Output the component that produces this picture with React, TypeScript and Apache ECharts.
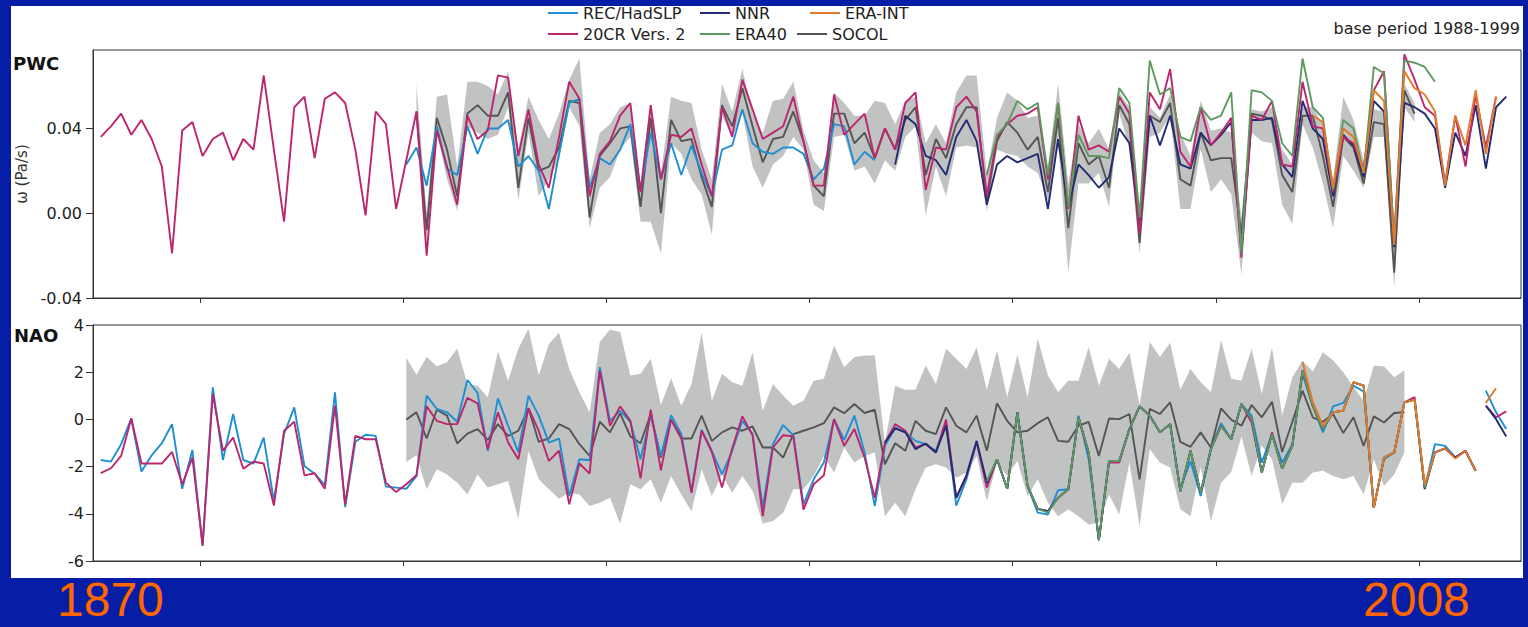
import React, { useEffect, useRef } from "react";
import * as echarts from "echarts";

// ---------------- DATA ----------------
// PWC (omega, Pa/s)
const PWC_20CR_START = 1871;
const PWC_20CR = [
  0.036, 0.041, 0.047, 0.037, 0.044, 0.035, 0.022, -0.019, 0.039, 0.043, // 1871-1880
  0.027, 0.035, 0.038, 0.025, 0.035, 0.030, 0.065, 0.030, -0.004, 0.050, // 1881-1890
  0.055, 0.026, 0.054, 0.057, 0.052, 0.030, -0.001, 0.048, 0.042, 0.002, // 1891-1900
  0.025, 0.048, -0.020, 0.039, 0.022, 0.004, 0.046, 0.035, 0.039, 0.065, // 1901-1910
  0.064, 0.027, 0.049, 0.023, 0.012, 0.036, 0.062, 0.054, 0.008, 0.028, // 1911-1920
  0.034, 0.046, 0.052, 0.010, 0.051, 0.016, 0.037, 0.036, 0.040, 0.023, // 1921-1930
  0.008, 0.050, 0.036, 0.063, 0.049, 0.035, 0.038, 0.041, 0.055, 0.034, // 1931-1940
  0.013, 0.013, 0.056, 0.037, 0.042, 0.047, 0.026, 0.040, 0.030, 0.052, // 1941-1950
  0.057, 0.011, 0.031, 0.030, 0.050, 0.055, 0.048, 0.008, 0.036, 0.042, // 1951-1960
  0.046, 0.047, 0.050, 0.016, 0.052, 0.002, 0.046, 0.030, 0.032, 0.029, // 1961-1970
  0.055, 0.047, -0.010, 0.057, 0.049, 0.068, 0.029, 0.022, 0.050, 0.032, // 1971-1980
  0.038, 0.045, -0.021, 0.046, 0.044, 0.053, 0.023, 0.022, 0.062, 0.041, // 1981-1990
  0.040, 0.010, 0.036, 0.033, 0.021, 0.058, 0.067, -0.013, 0.075, 0.063, // 1991-2000
  0.050, 0.046, 0.014, 0.046, 0.022, 0.056, 0.031, 0.055, // 2001-2008
];
const PWC_REC_START = 1901;
const PWC_REC = [
  0.023, 0.031, 0.013, 0.041, 0.021, 0.018, 0.041, 0.028, 0.040, 0.040, // 1901-1910
  0.044, 0.022, 0.027, 0.020, 0.002, 0.028, 0.052, 0.054, 0.012, 0.026, // 1911-1920
  0.023, 0.030, 0.042, 0.011, 0.038, 0.016, 0.033, 0.018, 0.032, 0.019, // 1921-1930
  0.008, 0.030, 0.032, 0.049, 0.033, 0.029, 0.028, 0.031, 0.031, 0.028, // 1931-1940
  0.016, 0.021, 0.042, 0.041, 0.023, 0.029, 0.025, // 1941-1947
];
const PWC_SOCOL_START = 1902;
const PWC_SOCOL = [
  0.048, -0.008, 0.045, 0.030, 0.008, 0.047, 0.051, 0.046, 0.046, // 1902-1910
  0.057, 0.012, 0.045, 0.020, 0.022, 0.031, 0.053, 0.052, -0.002, 0.027, // 1911-1920
  0.033, 0.040, 0.041, 0.003, 0.045, 0.000, 0.044, 0.034, 0.035, 0.017, // 1921-1930
  0.003, 0.051, 0.041, 0.059, 0.041, 0.024, 0.035, 0.036, 0.048, 0.034, // 1931-1940
  0.013, 0.008, 0.047, 0.047, 0.033, 0.038, 0.026, 0.040, 0.030, 0.044, // 1941-1950
  0.050, 0.018, 0.035, 0.026, 0.042, 0.050, 0.050, 0.006, 0.034, 0.043, // 1951-1960
  0.038, 0.030, 0.036, 0.010, 0.045, -0.007, 0.033, 0.023, 0.027, 0.012, // 1961-1970
  0.051, 0.042, -0.014, 0.046, 0.043, 0.052, 0.016, 0.013, 0.038, 0.025, // 1971-1980
  0.026, 0.026, -0.010, 0.047, 0.046, 0.044, 0.018, 0.010, 0.046, 0.046, // 1981-1990
  0.027, 0.003, 0.036, 0.031, 0.014, 0.043, 0.042, -0.028, 0.058, 0.047, // 1991-2000
];
const PWC_BAND_UPPER = [
  0.061, 0.000, 0.055, 0.056, 0.022, 0.062, 0.062, 0.060, 0.056, // 1902-1910
  0.067, 0.030, 0.055, 0.044, 0.035, 0.047, 0.063, 0.073, 0.016, 0.038, // 1911-1920
  0.042, 0.050, 0.052, 0.014, 0.051, 0.019, 0.055, 0.053, 0.052, 0.030, // 1921-1930
  0.016, 0.061, 0.048, 0.068, 0.047, 0.038, 0.053, 0.054, 0.062, 0.039, // 1931-1940
  0.025, 0.019, 0.057, 0.052, 0.046, 0.046, 0.053, 0.052, 0.042, 0.053, // 1941-1950
  0.055, 0.033, 0.042, 0.033, 0.057, 0.065, 0.065, 0.019, 0.045, 0.057, // 1951-1960
  0.053, 0.045, 0.046, 0.022, 0.061, 0.014, 0.042, 0.033, 0.040, 0.030, // 1961-1970
  0.057, 0.050, 0.000, 0.050, 0.045, 0.056, 0.038, 0.027, 0.053, 0.039, // 1971-1980
  0.040, 0.038, -0.002, 0.049, 0.048, 0.050, 0.030, 0.023, 0.050, 0.050, // 1981-1990
  0.042, 0.016, 0.055, 0.044, 0.025, 0.049, 0.048, -0.007, 0.061, 0.052, // 1991-2000
];
const PWC_BAND_LOWER = [
  0.041, -0.013, 0.038, 0.016, 0.001, 0.041, 0.038, 0.035, 0.037, // 1902-1910
  0.050, 0.006, 0.038, 0.008, 0.016, 0.025, 0.050, 0.041, -0.007, 0.012, // 1911-1920
  0.017, 0.030, 0.036, -0.004, -0.004, -0.019, 0.033, 0.028, 0.016, 0.009, // 1921-1930
  -0.010, 0.046, 0.036, 0.047, 0.022, 0.012, 0.023, 0.027, 0.036, 0.030, // 1931-1940
  0.004, 0.001, 0.036, 0.037, 0.020, 0.022, 0.014, 0.025, 0.020, 0.036, // 1941-1950
  0.041, -0.001, 0.022, 0.008, 0.031, 0.032, 0.031, 0.001, 0.030, 0.028, // 1951-1960
  0.027, 0.022, 0.019, 0.006, 0.033, -0.028, 0.014, 0.014, 0.019, 0.003, // 1961-1970
  0.047, 0.031, -0.019, 0.036, 0.038, 0.046, 0.002, 0.002, 0.030, 0.010, // 1971-1980
  0.016, 0.009, -0.029, 0.038, 0.034, 0.033, 0.004, -0.005, 0.042, 0.031, // 1981-1990
  0.014, -0.007, 0.027, 0.020, 0.012, 0.036, 0.036, -0.035, 0.050, 0.043, // 1991-2000
];
const PWC_NNR_START = 1949;
const PWC_NNR = [
  0.023, 0.046, 0.042, 0.027, 0.025, 0.018, 0.036, 0.044, 0.034, 0.004, // 1949-1958
  0.023, 0.027, 0.024, 0.026, 0.028, 0.002, 0.035, 0.003, 0.023, 0.018, // 1959-1968
  0.012, 0.017, 0.040, 0.033, -0.006, 0.046, 0.032, 0.046, 0.023, 0.021, // 1969-1978
  0.038, 0.032, 0.037, 0.043, -0.018, 0.044, 0.044, 0.045, 0.023, 0.017, // 1979-1988
  0.053, 0.040, 0.035, 0.008, 0.037, 0.032, 0.017, 0.053, 0.048, -0.016, // 1989-1998
  0.052, 0.050, 0.047, 0.040, 0.012, 0.038, 0.027, 0.051, 0.021, 0.050, // 1999-2008
  0.055, // 2009
];
const PWC_ERA40_START = 1958;
const PWC_ERA40 = [
  0.018, 0.037, 0.042, 0.053, 0.049, 0.052, 0.018, 0.052, 0.003, 0.037, // 1958-1967
  0.027, 0.027, 0.026, 0.059, 0.052, -0.002, 0.072, 0.056, 0.059, 0.036, // 1968-1977
  0.034, 0.050, 0.044, 0.046, 0.057, -0.019, 0.058, 0.057, 0.053, 0.033, // 1978-1987
  0.027, 0.073, 0.050, 0.045, 0.011, 0.044, 0.040, 0.019, 0.069, 0.066, // 1988-1997
  -0.013, 0.072, 0.071, 0.069, 0.062, // 1998-2002
];
const PWC_ERAINT_START = 1990;
const PWC_ERAINT = [
  0.046, 0.043, 0.012, 0.040, 0.036, 0.019, 0.058, 0.053, -0.015, 0.067, // 1990-1999
  0.059, 0.056, 0.048, 0.013, 0.046, 0.032, 0.058, 0.028, 0.055, // 2000-2008
];

// NAO index
const NAO_BREAK_AFTER = 2006;
const NAO_REC_START = 1871;
const NAO_REC = [
  -1.72, -1.79, -1.05, 0.04, -2.21, -1.52, -1.01, -0.20, -2.94, -1.30, // 1871-1880
  -5.35, 1.36, -1.72, 0.23, -1.72, -1.87, -0.77, -3.46, -0.62, 0.51, // 1881-1890
  -1.97, -2.30, -2.79, 1.15, -3.72, -0.95, -0.65, -0.70, -2.85, -2.89, // 1891-1900
  -2.94, -2.40, 1.01, 0.44, 0.30, -0.10, 1.67, 1.12, -1.33, 0.89, // 1901-1910
  -0.27, -1.40, 1.01, 0.16, -0.98, -0.81, -3.25, -1.69, -1.73, 2.21, // 1911-1920
  -0.06, 0.37, -0.10, -1.69, 0.16, -1.55, 0.18, -0.62, -3.04, -0.44, // 1921-1930
  -1.33, -2.33, -1.33, -0.06, -0.62, -3.74, -1.05, -0.24, -0.67, -3.60, // 1931-1940
  -2.54, -1.83, 0.01, -0.87, 0.16, -1.40, -3.67, -1.12, -0.34, -0.55, // 1941-1950
  -0.91, -1.05, -1.33, -0.10, -3.65, -2.54, -0.95, -2.75, -1.69, -2.94, // 1951-1960
  0.30, -2.82, -3.95, -4.03, -3.00, -2.96, 0.16, -1.69, -5.12, -1.76, // 1961-1970
  -1.76, -0.41, 0.55, 0.16, -0.55, -0.20, -2.95, -1.76, -3.25, -1.26, // 1971-1980
  -0.16, -0.84, 0.65, 0.16, -1.83, -0.62, -1.83, -1.05, 1.93, 0.58, // 1981-1990
  -0.55, 0.55, 0.70, 1.43, 1.18, -3.74, -1.69, -1.40, 0.72, 0.84, // 1991-2000
  -2.89, -1.05, -1.12, -1.62, -1.33, -2.18, 1.22, 0.30, -0.41, // 2001-2009
];
const NAO_20CR_START = 1871;
const NAO_20CR = [
  -2.28, -2.07, -1.55, 0.04, -1.87, -1.87, -1.87, -1.38, -2.75, -1.62, // 1871-1880
  -5.35, 1.08, -1.33, -0.77, -2.09, -1.79, -1.87, -3.65, -0.48, -0.10, // 1881-1890
  -2.37, -2.28, -2.94, 0.58, -3.60, -0.70, -0.84, -0.84, -2.68, -3.08, // 1891-1900
  -2.75, -2.37, 0.55, -0.06, -0.20, -0.20, 0.91, 0.68, -1.26, 0.30, // 1901-1910
  -0.98, -1.69, 0.48, -0.48, -1.76, -1.33, -3.60, -1.87, -2.30, 2.07, // 1911-1920
  -0.27, 0.55, -0.06, -2.50, 0.41, -2.16, -0.01, -0.77, -3.11, -0.48, // 1921-1930
  -1.38, -2.89, -1.23, 0.13, -0.67, -4.10, -1.19, -0.67, -0.72, -3.82, // 1931-1940
  -2.75, -2.37, 0.01, -1.12, -0.41, -1.62, -3.32, -0.98, -0.20, -0.48, // 1941-1950
  -1.19, -1.05, -1.40, -0.01, -3.32, -2.40, -0.95, -2.89, -1.69, -2.94, // 1951-1960
  0.30, -2.82, -3.79, -3.89, -3.32, -2.96, 0.09, -1.40, -5.12, -1.83, // 1961-1970
  -1.83, -0.41, 0.55, 0.16, -0.55, -0.20, -3.04, -1.33, -3.11, -1.26, // 1971-1980
  -0.27, -0.84, 0.65, -0.13, -2.26, -0.55, -2.09, -1.12, 2.07, 0.58, // 1981-1990
  -0.41, 0.30, 0.37, 1.57, 1.43, -3.74, -1.62, -1.40, 0.72, 0.94, // 1991-2000
  -2.89, -1.40, -1.23, -1.62, -1.33, -2.18, 0.58, 0.09, 0.34, // 2001-2009
];
const NAO_NNR_START = 1948;
const NAO_NNR = [
  -0.98, -0.38, -0.55, -1.26, -1.02, -1.40, -0.27, -3.32, -2.37, -0.91, // 1948-1957
  -2.68, -1.69, -2.94, 0.30, -2.82, -3.79, -3.89, -3.32, -2.96, 0.09, // 1958-1967
  -1.40, -5.12, -1.76, -1.76, -0.41, 0.55, 0.16, -0.55, -0.20, -3.04, // 1968-1977
  -1.33, -3.11, -1.26, -0.27, -0.84, 0.65, 0.01, -2.26, -0.62, -2.09, // 1978-1987
  -1.12, 2.07, 0.58, -0.41, 0.30, 0.37, 1.57, 1.43, -3.74, -1.62, // 1988-1997
  -1.40, 0.72, 0.84, -2.95, -1.40, -1.23, -1.62, -1.33, -2.18, 0.58, // 1998-2007
  0.01, -0.72, // 2008-2009
];
const NAO_ERA40_START = 1958;
const NAO_ERA40 = [
  -2.61, -1.69, -2.94, 0.30, -2.82, -3.79, -3.95, -3.32, -2.96, 0.09, // 1958-1967
  -1.40, -5.12, -1.76, -1.76, -0.41, 0.55, 0.16, -0.55, -0.20, -3.04, // 1968-1977
  -1.33, -3.11, -1.26, -0.27, -0.84, 0.65, 0.01, -2.26, -0.62, -2.09, // 1978-1987
  -1.12, 2.07, 0.58, -0.41, 0.30, 0.37, 1.57, 1.43, -3.74, -1.62, // 1988-1997
  -1.40, 0.72, 0.84, -2.89, -1.40, // 1998-2002
];
const NAO_ERAINT_START = 1989;
const NAO_ERAINT = [
  2.43, 0.75, -0.27, 0.30, 0.37, 1.57, 1.43, -3.74, -1.62, -1.40, // 1989-1998
  0.72, 0.84, -2.75, -1.40, -1.23, -1.66, -1.33, -2.18, 0.70, 1.32, // 1999-2008
];
const NAO_SOCOL_START = 1901;
const NAO_SOCOL = [
  -0.01, 0.30, -0.81, 0.41, 0.16, -1.02, -0.60, -0.41, -0.87, -0.20, // 1901-1910
  -0.70, -0.48, 0.47, -0.95, -0.81, -0.20, -0.41, -1.05, -1.55, -0.10, // 1911-1920
  -0.55, 0.26, -0.72, -1.01, 0.23, -1.62, -0.01, -0.81, -0.81, 0.16, // 1921-1930
  -0.91, -0.55, -0.34, -0.48, -0.30, -1.19, -1.19, -1.62, -0.62, -0.48, // 1931-1940
  -0.34, -0.16, 0.51, 0.26, 0.65, 0.27, 0.41, -1.90, -1.01, -1.33, // 1941-1950
  -0.06, -0.48, -0.62, 0.51, -0.27, -0.55, 0.16, -1.33, 0.68, -0.06, // 1951-1960
  -0.55, -0.48, -0.16, 0.09, -0.91, -0.95, -0.27, -0.10, -1.55, 0.04, // 1961-1970
  0.01, 0.23, -2.54, 0.45, 0.23, 0.72, -0.95, -1.16, -0.55, -1.19, // 1971-1980
  0.47, -0.01, -0.27, 0.61, 0.09, 0.75, -1.38, -0.10, 1.22, 0.09, // 1981-1990
  -0.10, 0.23, -0.58, 0.09, -1.12, 0.13, -0.13, 0.27, 0.30, // 1991-1999
];
const NAO_BAND_UPPER = [
  2.60, 1.89, 2.64, 2.25, 2.42, 2.99, 1.50, 1.43, 0.94, 2.88, // 1901-1910
  1.64, 2.99, 3.84, 1.86, 3.20, 3.67, 2.14, 1.15, 0.30, 3.28, // 1911-1920
  3.81, 3.70, 1.86, 1.93, 2.57, 0.61, 1.74, 0.58, 1.50, 3.67, // 1921-1930
  0.79, 1.93, 1.57, 1.43, 2.85, 0.37, 1.50, 1.01, 0.58, 0.79, // 1931-1940
  1.64, 1.72, 3.13, 2.21, 2.64, 2.71, 2.71, -1.00, 1.43, 1.26, // 1941-1950
  1.26, 2.28, 1.50, 2.99, 2.57, 2.14, 3.06, 1.26, 2.92, 0.94, // 1951-1960
  2.74, 0.94, 3.42, 1.86, 1.15, 1.64, 1.64, 3.06, 1.43, 2.57, // 1961-1970
  2.14, 2.82, 0.61, 3.28, 2.64, 3.25, 1.26, 2.14, 1.57, 1.15, // 1971-1980
  3.35, 1.72, 1.64, 2.99, 1.08, 3.06, 0.16, 1.79, 2.50, 2.03, // 1981-1990
  2.85, 2.50, 2.00, 1.36, 0.79, 2.28, 2.24, 1.79, 2.07, // 1991-1999
];
const NAO_BAND_LOWER = [
  -1.80, -1.52, -2.96, -2.11, -2.33, -2.68, -3.18, -2.33, -2.89, -2.75, // 1901-1910
  -2.61, -4.21, -1.33, -2.54, -2.96, -3.36, -3.11, -3.18, -3.67, -3.53, // 1911-1920
  -3.32, -4.41, -2.75, -2.96, -2.54, -3.53, -2.40, -3.18, -3.89, -2.11, // 1921-1930
  -3.25, -2.33, -3.11, -2.40, -3.03, -4.41, -4.31, -3.96, -2.96, -2.96, // 1931-1940
  -2.40, -1.55, -2.25, -1.19, -1.83, -1.55, -1.40, -4.10, -3.53, -4.10, // 1941-1950
  -2.96, -2.04, -1.90, -2.04, -2.47, -2.25, -1.55, -3.46, -1.83, -2.40, // 1951-1960
  -1.76, -3.25, -2.54, -3.53, -4.10, -3.81, -4.10, -4.45, -4.38, -3.18, // 1961-1970
  -4.03, -1.83, -4.52, -1.26, -1.83, -2.04, -3.81, -4.10, -2.04, -4.31, // 1971-1980
  -2.68, -2.23, -0.72, -2.40, -1.12, -1.69, -3.60, -2.68, -2.68, -2.25, // 1981-1990
  -2.18, -2.40, -2.54, -2.40, -3.18, -1.69, -2.82, -2.33, -1.40, // 1991-1999
];

// axes
const X_TICKS = [1880.8, 1900.7, 1920.6, 1940.6, 1960.5, 1980.5, 2000.5];
const PWC_TICKS = [-0.04, 0, 0.04];
const NAO_TICKS = [-6, -4, -2, 0, 2, 4];

const COLORS: Record<string, string> = {
  "REC/HadSLP": "#1d8fd2",
  NNR: "#232b74",
  "ERA-INT": "#e27a2a",
  "20CR Vers. 2": "#bb266e",
  ERA40: "#5e9a5f",
  SOCOL: "#555555",
};
const BAND_COLOR = "#c1c2c2";
const FONT = "DejaVu Sans";

// ---------------- helpers ----------------
function pairs(start: number, values: number[], breakAfter?: number) {
  const out: any[] = [];
  values.forEach((v, i) => {
    const yr = start + i;
    out.push([yr, v]);
    if (breakAfter !== undefined && yr === breakAfter && i < values.length - 1) {
      out.push([yr + 0.5, "-"]);
    }
  });
  return out;
}

function line(name: string, start: number, values: number[], idx: number, breakAfter?: number) {
  return {
    type: "line",
    name,
    xAxisIndex: idx,
    yAxisIndex: idx,
    data: pairs(start, values, breakAfter),
    showSymbol: false,
    symbol: "none",
    connectNulls: false,
    lineStyle: { color: COLORS[name], width: 1.9 },
    itemStyle: { color: COLORS[name] },
    emphasis: { disabled: true },
    silent: true,
  };
}

function band(start: number, upper: number[], lower: number[], idx: number) {
  return {
    type: "custom",
    xAxisIndex: idx,
    yAxisIndex: idx,
    silent: true,
    clip: true,
    data: [[start, upper[0]]],
    encode: { x: 0, y: 1 },
    renderItem: (_p: any, api: any) => {
      const pts: number[][] = [];
      upper.forEach((v, i) => pts.push(api.coord([start + i, v])));
      for (let i = lower.length - 1; i >= 0; i--) pts.push(api.coord([start + i, lower[i]]));
      return { type: "polygon", shape: { points: pts }, style: { fill: BAND_COLOR, stroke: null } };
    },
  };
}

function legendItem(name: string, left: number, top: number) {
  return {
    data: [name],
    left,
    top,
    icon: "rect",
    itemWidth: 30,
    itemHeight: 2,
    padding: 0,
    selectedMode: false,
    textStyle: { fontFamily: FONT, fontSize: 16, color: "#222", padding: [0, 0, 0, 0] },
  };
}

const xAxisBase = {
  type: "value",
  min: 1870.24,
  max: 2010.45,
  axisLine: { show: true, onZero: false, lineStyle: { color: "#333", width: 1 } },
  axisTick: { show: true, customValues: X_TICKS, length: 5, lineStyle: { color: "#333" } },
  axisLabel: { show: false },
  splitLine: { show: false },
};

export default function App() {
  const ref = useRef<HTMLDivElement>(null);
  useEffect(() => {
    if (!ref.current) return;
    const chart = echarts.init(ref.current, null, { renderer: "svg" });
    const option: any = {
      animation: false,
      textStyle: { fontFamily: FONT },
      grid: [
        { left: 93, top: 50, width: 1428, height: 248, show: true, borderColor: "#333", borderWidth: 1 },
        { left: 93, top: 325, width: 1428, height: 236, show: true, borderColor: "#333", borderWidth: 1 },
      ],
      xAxis: [
        { ...xAxisBase, gridIndex: 0 },
        { ...xAxisBase, gridIndex: 1 },
      ],
      yAxis: [
        {
          type: "value",
          gridIndex: 0,
          min: -0.04,
          max: 0.077,
          interval: 0.04,
          axisLine: { show: true, onZero: false, lineStyle: { color: "#333" } },
          axisTick: { show: true, customValues: PWC_TICKS, length: 7, lineStyle: { color: "#333" } },
          axisLabel: {
            customValues: PWC_TICKS,
            formatter: (v: number) => v.toFixed(2),
            fontFamily: FONT,
            fontSize: 16,
            color: "#222",
            margin: 11,
          },
          splitLine: { show: false },
          name: "ω (Pa/s)",
          nameLocation: "middle",
          nameGap: 57,
          nameTextStyle: { fontFamily: FONT, fontSize: 15, color: "#333" },
        },
        {
          type: "value",
          gridIndex: 1,
          min: -6,
          max: 4,
          interval: 2,
          axisLine: { show: true, onZero: false, lineStyle: { color: "#333" } },
          axisTick: { show: true, customValues: NAO_TICKS, length: 7, lineStyle: { color: "#333" } },
          axisLabel: {
            customValues: NAO_TICKS,
            fontFamily: FONT,
            fontSize: 16,
            color: "#222",
            margin: 9,
          },
          splitLine: { show: false },
        },
      ],
      legend: [
        legendItem("REC/HadSLP", 548, 5),
        legendItem("NNR", 700, 5),
        legendItem("ERA-INT", 810, 5),
        legendItem("20CR Vers. 2", 548, 26),
        legendItem("ERA40", 700, 26),
        legendItem("SOCOL", 797, 26),
      ],
      graphic: [
        {
          type: "text",
          x: 1520,
          y: 28,
          style: { text: "base period 1988-1999", font: `16px "${FONT}"`, fill: "#222", align: "right", verticalAlign: "middle", textAlign: "right", textVerticalAlign: "middle" },
        },
        {
          type: "text",
          x: 13,
          y: 63,
          style: { text: "PWC", font: `bold 18px "${FONT}"`, fill: "#111", verticalAlign: "middle", textVerticalAlign: "middle" },
        },
        {
          type: "text",
          x: 14,
          y: 335,
          style: { text: "NAO", font: `bold 18px "${FONT}"`, fill: "#111", verticalAlign: "middle", textVerticalAlign: "middle" },
        },
        {
          type: "text",
          x: 57,
          y: 599,
          style: { text: "1870", font: `48px "Liberation Sans"`, fill: "#ff6600", verticalAlign: "middle", textVerticalAlign: "middle" },
        },
        {
          type: "text",
          x: 1363,
          y: 599,
          style: { text: "2008", font: `48px "Liberation Sans"`, fill: "#ff6600", verticalAlign: "middle", textVerticalAlign: "middle" },
        },
      ],
      series: [
        band(PWC_SOCOL_START, PWC_BAND_UPPER, PWC_BAND_LOWER, 0),
        line("SOCOL", PWC_SOCOL_START, PWC_SOCOL, 0),
        line("REC/HadSLP", PWC_REC_START, PWC_REC, 0),
        line("NNR", PWC_NNR_START, PWC_NNR, 0),
        line("20CR Vers. 2", PWC_20CR_START, PWC_20CR, 0),
        line("ERA40", PWC_ERA40_START, PWC_ERA40, 0),
        line("ERA-INT", PWC_ERAINT_START, PWC_ERAINT, 0),

        band(NAO_SOCOL_START, NAO_BAND_UPPER, NAO_BAND_LOWER, 1),
        line("SOCOL", NAO_SOCOL_START, NAO_SOCOL, 1),
        line("REC/HadSLP", NAO_REC_START, NAO_REC, 1, NAO_BREAK_AFTER),
        line("20CR Vers. 2", NAO_20CR_START, NAO_20CR, 1, NAO_BREAK_AFTER),
        line("NNR", NAO_NNR_START, NAO_NNR, 1, NAO_BREAK_AFTER),
        line("ERA40", NAO_ERA40_START, NAO_ERA40, 1, NAO_BREAK_AFTER),
        line("ERA-INT", NAO_ERAINT_START, NAO_ERAINT, 1, NAO_BREAK_AFTER),
      ],
    };
    chart.setOption(option);
    return () => chart.dispose();
  }, []);

  return (
    <div style={{ position: "fixed", left: 0, top: 0, width: 1528, height: 627, background: "#061ea6", overflow: "hidden" }}>
      <div style={{ position: "absolute", left: 11, top: 6, width: 1512, height: 572, background: "#ffffff" }} />
      <div ref={ref} style={{ position: "absolute", left: 0, top: 0, width: 1528, height: 627 }} />
    </div>
  );
}
